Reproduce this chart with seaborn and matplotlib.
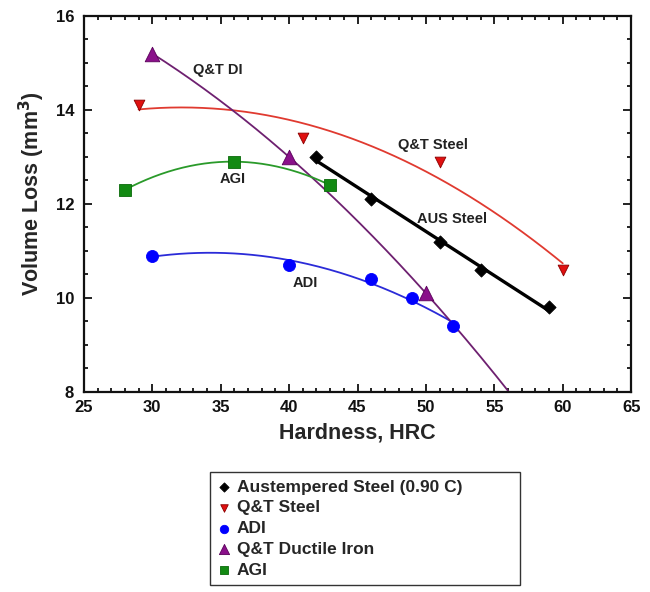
import numpy as np
import pandas as pd
import matplotlib
matplotlib.use("Agg")
import matplotlib.pyplot as plt
import seaborn as sns
from matplotlib.ticker import MultipleLocator

# Wear data: hardness (HRC) vs. volume loss (mm^3)
aus_x = [42, 46, 51, 54, 59]
aus_y = [13.0, 12.1, 11.2, 10.6, 9.8]
qts_x = [29, 41, 51, 60]
qts_y = [14.1, 13.4, 12.9, 10.6]
adi_x = [30, 40, 46, 49, 52]
adi_y = [10.9, 10.7, 10.4, 10.0, 9.4]
qtdi_x = [30, 40, 50]
qtdi_y = [15.2, 13.0, 10.1]
agi_x = [28, 36, 43]
agi_y = [12.3, 12.9, 12.4]

legend_names = ["Austempered Steel (0.90 C)", "Q&T Steel", "ADI",
                "Q&T Ductile Iron", "AGI"]
curve_labels = ["AUS Steel", "Q&T Steel", "ADI", "Q&T DI", "AGI"]

sns.set_style("ticks")
plt.rcParams["font.family"] = ["Liberation Sans", "DejaVu Sans"]
plt.rcParams["font.weight"] = "bold"

fig = plt.figure(figsize=(6.5, 5.92), dpi=100)
ax = fig.add_axes([0.129, 0.338, 0.842, 0.635])

series = [
    # x, y, fit degree, fit x-range, marker colour, edge, line colour, marker, size, lw
    (aus_x, aus_y, 1, (42, 59), "black", "black", "black", "D", 45, 2.4),
    (qts_x, qts_y, 2, (29, 60), "#e01010", "#8a0000", "#e03a30", "v", 60, 1.3),
    (adi_x, adi_y, 2, (30, 52), "#0000ff", "#0000ff", "#2b2bd8", "o", 75, 1.3),
    (qtdi_x, qtdi_y, 2, (30, 57), "#8a108a", "#5a005a", "#6e2070", "^", 110, 1.3),
    (agi_x, agi_y, 2, (28, 43), "#138a13", "#0a6a0a", "#2a9a2a", "s", 75, 1.3),
]

for (xs, ys, deg, (x0, x1), mc, ec, lc, mk, sz, lw), name in zip(series, legend_names):
    coef = np.polyfit(xs, ys, deg)
    gx = np.linspace(x0, x1, 200)
    sns.lineplot(x=gx, y=np.polyval(coef, gx), ax=ax, color=lc, linewidth=lw,
                 legend=False, zorder=2)
    sns.scatterplot(x=xs, y=ys, ax=ax, marker=mk, s=sz, color=mc, edgecolor=ec,
                    linewidth=0.6, label=name, zorder=3)

# curve labels
label_pos = [(51.9, 11.68), (50.5, 13.25), (41.2, 10.32), (34.8, 14.85), (35.9, 12.53)]
for txt, (tx, ty) in zip(curve_labels, label_pos):
    ax.text(tx, ty, txt, fontsize=10.5, fontweight="bold", ha="center", va="center",
            color="#222222")

ax.set_xlim(25, 65)
ax.set_ylim(8, 16)
ax.xaxis.set_major_locator(MultipleLocator(5))
ax.xaxis.set_minor_locator(MultipleLocator(1))
ax.yaxis.set_major_locator(MultipleLocator(2))
ax.yaxis.set_minor_locator(MultipleLocator(0.5))
ax.tick_params(which="both", direction="in", top=True, right=True, width=1.3,
               labelsize=12, colors="#111111")
ax.tick_params(which="major", length=6)
ax.tick_params(which="minor", length=3)
ax.tick_params(axis="x", which="major", pad=6)
ax.tick_params(axis="y", which="major", pad=7)
for lbl in ax.get_xticklabels() + ax.get_yticklabels():
    lbl.set_fontweight("bold")
for sp in ax.spines.values():
    sp.set_linewidth(1.6)
    sp.set_color("#111111")

ax.set_xlabel("Hardness, HRC", fontsize=15.5, fontweight="bold", labelpad=5)
ax.set_ylabel("Volume Loss (mm$^\\mathbf{3}$)", fontsize=15.5, fontweight="bold")
ax.yaxis.set_label_coords(-0.068, 0.527)

handles, labels = ax.get_legend_handles_labels()
ax.get_legend().remove()
leg = fig.legend(handles, labels, loc="upper left", bbox_to_anchor=(0.323, 0.203, 0.477, 0.0),
                 mode="expand", frameon=True, fancybox=False, edgecolor="black",
                 prop={"weight": "bold", "size": 12.5}, handlelength=0.7,
                 handletextpad=0.4, labelspacing=0.32, borderpad=0.45,
                 borderaxespad=0.0, markerscale=0.7)
leg.get_frame().set_linewidth(1.0)

fig.savefig("out.png", dpi=100)
